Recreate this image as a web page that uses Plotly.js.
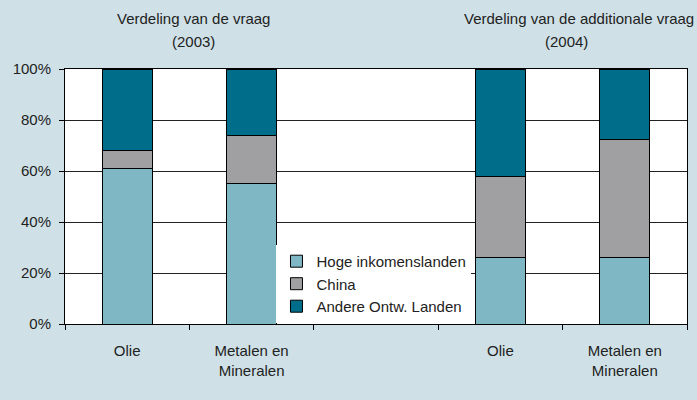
<!DOCTYPE html>
<html><head><meta charset="utf-8">
<script src="https://cdn.plot.ly/plotly-3.0.1.min.js"></script>
<style>html,body{margin:0;padding:0;}#chart{width:697px;height:400px;}</style>
</head><body><div id="chart"></div>
<script>
const categories = ["olie2003","metalen2003","gap","olie2004","metalen2004"];
const tickLabels = ["Olie","Metalen en<br>Mineralen","","Olie","Metalen en<br>Mineralen"];
const hogeInkomenslanden = [61, 55, null, 26, 26];
const china = [7, 19, null, 32, 46.5];
const andereOntwLanden = [32, 26, null, 42, 27.5];
const seriesNames = ["Hoge inkomenslanden","China","Andere Ontw. Landen"];
const colors = ["#7fb7c5","#a0a0a2","#006e8a"];
const titleLines = ["Verdeling van de vraag","(2003)","Verdeling van de additionale vraag","(2004)"];
const yTickVals = [0,20,40,60,80,100];
const yTickText = ["0%","20%","40%","60%","80%","100%"];

const font = "Liberation Sans, Arial, sans-serif";
const txt = {family:font, size:15, color:"#222"};
const vals = [hogeInkomenslanden, china, andereOntwLanden];
const traces = vals.map((v,i)=>({
  type:"bar", x:categories, y:v, name:seriesNames[i],
  marker:{color:colors[i], line:{color:"#000", width:1}},
  hoverinfo:"skip"
}));

const titlePos = [[0.206,1.2],[0.206,1.106],[0.826,1.2],[0.807,1.106]];
const layout = {
  width:697, height:400,
  paper_bgcolor:"#cfe1e7", plot_bgcolor:"#ffffff",
  margin:{l:65, r:10, t:69, b:76},
  barmode:"stack", bargap:0.6,
  font:txt,
  showlegend:true,
  legend:{x:0.34, y:0.31, xanchor:"left", yanchor:"top", bgcolor:"#ffffff",
    borderwidth:0, traceorder:"normal", font:txt, tracegroupgap:0, itemwidth:30},
  xaxis:{type:"category", categoryorder:"array", categoryarray:categories,
    range:[-0.5,4.5], tickvals:categories, ticktext:tickLabels, tickson:"boundaries",
    ticks:"outside", ticklen:5, tickcolor:"#000", showgrid:false, ticklabelstandoff:13,
    showline:true, linecolor:"#000", linewidth:1, mirror:true, tickfont:txt},
  yaxis:{range:[0,100], tickvals:yTickVals, ticktext:yTickText,
    ticks:"outside", ticklen:5, tickcolor:"#000", showgrid:true, gridcolor:"#222", gridwidth:1,
    showline:true, linecolor:"#000", linewidth:1, mirror:true, zeroline:false,
    ticklabelstandoff:5, tickfont:txt},
  annotations: titleLines.map((t,i)=>({text:t, xref:"paper", yref:"paper",
    x:titlePos[i][0], y:titlePos[i][1], xanchor:"center", yanchor:"middle",
    showarrow:false, font:txt}))
};
Plotly.newPlot("chart", traces, layout, {displayModeBar:false, staticPlot:true});
</script></body></html>
